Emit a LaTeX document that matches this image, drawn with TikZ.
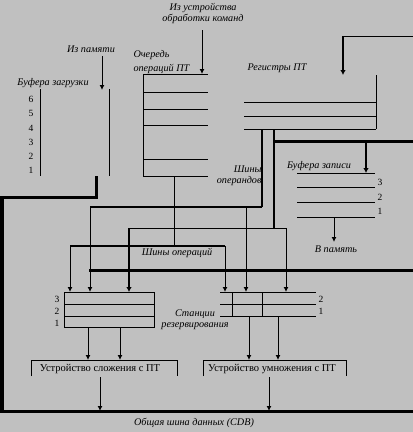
\documentclass[tikz,border=0pt]{standalone}
\usepackage{fontspec}
\setmainfont{Liberation Serif}
\usetikzlibrary{arrows.meta,positioning,calc}
\definecolor{bggray}{RGB}{192,192,192}
\tikzstyle{bus}=[line width=3pt]
\tikzstyle{vbus}=[line width=2.4pt]
\tikzstyle{hbus}=[line width=1.6pt]
\tikzstyle{arr}=[-{Latex[length=5pt,width=5pt]}]
\tikzstyle{lbl}=[font=\fontsize{10.2}{11}\selectfont\itshape, inner sep=0pt]
\tikzstyle{num}=[font=\fontsize{9.5}{10}\selectfont, inner sep=0pt]
\tikzstyle{unit}=[font=\fontsize{10.5}{11}\selectfont, inner sep=0pt]
\begin{document}
\begin{tikzpicture}[x=1pt,y=-1pt,line width=1pt]
\fill[bggray] (0,0) rectangle (413,432);
\useasboundingbox (0,0) rectangle (413,432);

    \foreach \name/\pos in {{iu/(202,30)}, {mem/(102,56)}, {regin/(343,36)}, {queue/(143,74)}, {regs/(376,75)},
        {ldbuf/(96,176)}, {qout/(174,176)}, {opbus/(70,246)}, {opbusr/(225,246)},
        {opda/(262,129)}, {opdal/(90,207)}, {opdam/(246,207)}, {opdb/(274,129)}, {opdbl/(129,228)}, {opdbm/(286,228)},
        {stbus/(274,141)}, {stbuf/(366,173)}, {stout/(334,217)}, {cdbtap/(89,270)},
        {addst/(64,292)}, {mulst/(220,292)}, {cdbl/(2,411)}, {addout/(100,377)}, {mulout/(269,377)}}
        \path \pos coordinate (\name);

%labels
\node[lbl, align=center] (fromiu) at (203,13) {Из устройства\\обработки команд};
\node[lbl] (frommem) at (91,49) {Из памяти};
\node[lbl] (ldlbl) at (53,83) {Буфера загрузки};
\node[lbl, anchor=west] (qlbl) at (133,55) {Очередь};
\node[lbl, anchor=west] (qlbl2) at (133,69) {операций ПТ};
\node[lbl] (reglbl) at (277,68) {Регистры ПТ};
\node[lbl, align=right, anchor=east] (opdlbl) at (262,176) {Шины\\операндов};
\node[lbl] (stlbl) at (319,166) {Буфера записи};
\node[lbl] (tomem) at (336,249) {В память};
\node[lbl] (oplbl) at (177,253) {Шины операций};
\node[lbl, align=center] (rslbl) at (195,320) {Станции\\резервирования};
\node[lbl] (cdblbl) at (194,423) {Общая шина данных (CDB)};

%load buffers
\draw (40,89) -- (40,176);
\draw (109,89) -- (109,176);
\foreach \n/\y in {6/99, 5/113, 4/128, 3/142, 2/156, 1/170}
    \node[num] at (31,\y) {\n};
\draw[arr] (mem) -- ++(0,34);

%op queue
\draw (207.5,74) -- (queue) -- (143,176) -- (207.5,176);
\foreach \y in {92,109,125,159}
    \draw (143,\y) -- (207.5,\y);
\draw[arr] (iu) -- (iu |- queue);

%registers
\foreach \y in {102,116,129}
    \draw (244,\y) -- (376,\y);
\draw (regs) -- (376,129);
\draw (413,36) -- (regin);
\draw[vbus, -{Latex[length=5pt,width=5.5pt]}] (regin) -- (regin |- regs);

%store buffers
\foreach \y in {173,187,202,217}
    \draw (297,\y) -- (375,\y);
\foreach \n/\y in {3/182, 2/197, 1/211}
    \node[num] at (380,\y) {\n};
\draw[arr] (stout) -- ++(0,25);

%buses
\draw[bus, line join=miter] (ldbuf) -- ++(0,21) -| (cdbl) -- (413,411);
\draw (qout) -- (qout |- opbus);
\draw[hbus] (opbus) -- (opbusr);
\draw[arr] (opbus) -- (opbus |- addst);
\draw[arr] (opbusr) -- (opbusr |- mulst);
\draw[vbus] (opda) -- (opda |- opdal);
\draw[hbus] (opda |- opdal) -- (opdal);
\draw[arr] (opdal) -- (opdal |- addst);
\draw[arr] (opdam) -- (opdam |- mulst);
\draw[vbus] (opdb) -- (opdb |- opdbl);
\draw (opdbl) -- (opdbm);
\draw[vbus, -{Latex[length=5pt,width=5.5pt]}] (opdbl) -- (opdbl |- addst);
\draw[arr] (opdbm) -- (opdbm |- mulst);
\draw[bus] (stbus) -- (413,141);
\draw[vbus, -{Latex[length=5pt,width=5.5pt]}] (stbus -| stbuf) -- (stbuf);
\draw[bus] (cdbtap) -- (413,270);

%reservation stations
\draw (addst) rectangle (154,327);
\foreach \y in {304,316}
    \draw (64,\y) -- (154,\y);
\foreach \n/\y in {3/299, 2/311, 1/323}
    \node[num] at (57,\y) {\n};
\foreach \y in {292,304,316}
    \draw (220,\y) -- (316,\y);
\draw (232,292) -- (232,316);
\draw (262,292) -- (262,316);
\foreach \n/\y in {2/299, 1/311}
    \node[num] at (321,\y) {\n};

%units
\node[unit] (adder) at (100,369) {Устройство сложения с ПТ};
\node[unit] (mult) at (272,369) {Устройство умножения с ПТ};
\draw (31,376) |- (177,360) -- (177,376);
\draw (203,376) |- (346,360) -- (346,376);
\foreach \x in {88,120}
    \draw[arr] (\x,327) -- (\x,360);
\foreach \x in {249,278}
    \draw[arr] (\x,316) -- (\x,360);
\draw[arr] (addout) -- (addout |- cdbl);
\draw[arr] (mulout) -- (mulout |- cdbl);

\end{tikzpicture}
\end{document}
